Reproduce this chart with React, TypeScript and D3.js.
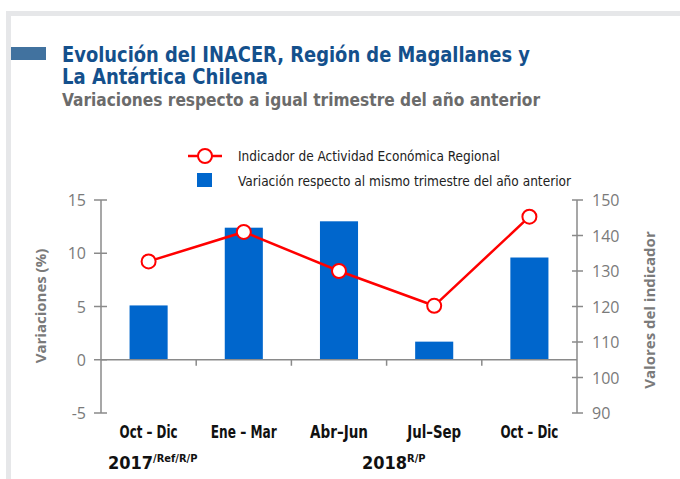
import React from 'react';
import * as d3 from 'd3';

const quarters = ['Oct – Dic', 'Ene – Mar', 'Abr–Jun', 'Jul–Sep', 'Oct – Dic'];
const variation = [5.1, 12.4, 13.0, 1.7, 9.6];
const indicator = [132.7, 141.0, 130.0, 120.2, 145.3];
const leftTicks = [-5, 0, 5, 10, 15];
const rightTicks = [90, 100, 110, 120, 130, 140, 150];

const width = 680, height = 479;
const plot = { left: 101, right: 577, top: 200, bottom: 413 };
const labelWidths = [58, 66, 58, 54, 58];

const narrow = "'DejaVu Sans Condensed', 'Liberation Sans Narrow', sans-serif";
const sans = "'Open Sans', 'Noto Sans', sans-serif";

export default function App() {
  const x = d3.scaleBand<number>()
    .domain(d3.range(quarters.length))
    .range([plot.left, plot.right])
    .paddingInner(0.6)
    .paddingOuter(0.3);

  const yLeft = d3.scaleLinear().domain([-5, 15]).range([plot.bottom, plot.top]);
  const yRight = d3.scaleLinear().domain([90, 150]).range([plot.bottom, plot.top]);

  const step = (plot.right - plot.left) / quarters.length;
  const cx = (i: number) => x(i)! + x.bandwidth() / 2;

  const line = d3.line<number>()
    .x((d, i) => cx(i))
    .y(d => yRight(d));

  const axisGray = '#8a8a8a';

  return (
    <svg width={width} height={height} style={{ position: 'absolute', left: 0, top: 0 }}>
      <rect x={0} y={0} width={width} height={height} fill="#fff" />
      {/* frame */}
      <rect x={6} y={11} width={width - 6} height={5} fill="#e6e7e9" />
      <rect x={6} y={11} width={5} height={height - 11} fill="#e6e7e9" />
      <rect x={11} y={47} width={35} height={13} fill="#41729f" />

      <text x={62} y={62} fontFamily={narrow} fontWeight="bold" fontSize={21} fill="#14508c"
        textLength={468} lengthAdjust="spacingAndGlyphs">Evolución del INACER, Región de Magallanes y</text>
      <text x={62} y={84} fontFamily={narrow} fontWeight="bold" fontSize={21} fill="#14508c"
        textLength={206} lengthAdjust="spacingAndGlyphs">La Antártica Chilena</text>
      <text x={62} y={106} fontFamily={narrow} fontWeight="bold" fontSize={18} fill="#6b6b6b"
        textLength={478} lengthAdjust="spacingAndGlyphs">Variaciones respecto a igual trimestre del año anterior</text>

      {/* legend */}
      <line x1={188} x2={222} y1={156} y2={156} stroke="#ff0000" strokeWidth={2.5} />
      <circle cx={205} cy={156} r={7} fill="#fff" stroke="#ff0000" strokeWidth={2} />
      <text x={238} y={161} fontFamily={narrow} fontSize={14} fill="#222"
        textLength={262} lengthAdjust="spacingAndGlyphs">Indicador de Actividad Económica Regional</text>
      <rect x={197} y={173} width={15} height={14} fill="#0066cc" />
      <text x={238} y={186} fontFamily={narrow} fontSize={14} fill="#222"
        textLength={333} lengthAdjust="spacingAndGlyphs">Variación respecto al mismo trimestre del año anterior</text>

      {/* bars */}
      {variation.map((v, i) => (
        <rect key={i} x={x(i)} width={x.bandwidth()} y={yLeft(Math.max(0, v))}
          height={Math.abs(yLeft(v) - yLeft(0))} fill="#0066cc" />
      ))}

      {/* left axis */}
      <line x1={plot.left} x2={plot.left} y1={plot.top} y2={plot.bottom} stroke={axisGray} strokeWidth={1.5} />
      {leftTicks.map(t => (
        <g key={t}>
          <line x1={plot.left - 7} x2={plot.left + 6} y1={yLeft(t)} y2={yLeft(t)} stroke={axisGray} strokeWidth={1.5} />
          <text x={86} y={yLeft(t) + 6} textAnchor="end" fontFamily={sans} fontSize={16} fill="#7a7a7a">{t}</text>
        </g>
      ))}
      {/* right axis */}
      <line x1={plot.right} x2={plot.right} y1={plot.top} y2={plot.bottom} stroke={axisGray} strokeWidth={1.5} />
      {rightTicks.map(t => (
        <g key={t}>
          <line x1={plot.right - 5} x2={plot.right + 6} y1={yRight(t)} y2={yRight(t)} stroke={axisGray} strokeWidth={1.5} />
          <text x={592} y={yRight(t) + 6} fontFamily={sans} fontSize={16} fill="#7a7a7a">{t}</text>
        </g>
      ))}
      {/* zero line with category ticks */}
      <line x1={plot.left} x2={plot.right} y1={yLeft(0)} y2={yLeft(0)} stroke={axisGray} strokeWidth={1.5} />
      {d3.range(1, quarters.length).map(i => (
        <line key={i} x1={plot.left + step * i} x2={plot.left + step * i}
          y1={yLeft(0)} y2={yLeft(0) + 6} stroke={axisGray} strokeWidth={1.5} />
      ))}

      <text transform={`translate(46,306) rotate(-90)`} textAnchor="middle" fontFamily={sans}
        fontWeight="bold" fontSize={15} fill="#7a7a7a">Variaciones (%)</text>
      <text transform={`translate(655,310) rotate(-90)`} textAnchor="middle" fontFamily={sans}
        fontWeight="bold" fontSize={15} fill="#7a7a7a">Valores del indicador</text>

      {/* line series */}
      <path d={line(indicator) ?? ''} fill="none" stroke="#ff0000" strokeWidth={2.5} />
      {indicator.map((v, i) => (
        <circle key={i} cx={cx(i)} cy={yRight(v)} r={7} fill="#fff" stroke="#ff0000" strokeWidth={2} />
      ))}

      {/* category labels */}
      {quarters.map((q, i) => (
        <text key={i} x={cx(i) - labelWidths[i] / 2} y={438} fontFamily={narrow} fontWeight="bold"
          fontSize={17} fill="#111" textLength={labelWidths[i]} lengthAdjust="spacingAndGlyphs">{q}</text>
      ))}
      <text x={108} y={469} fontFamily={narrow} fontWeight="bold" fontSize={18} fill="#111">
        2017<tspan dy={-7} fontSize={11}>/Ref/R/P</tspan>
      </text>
      <text x={362} y={469} fontFamily={narrow} fontWeight="bold" fontSize={18} fill="#111">
        2018<tspan dy={-7} fontSize={11}>R/P</tspan>
      </text>
    </svg>
  );
}
